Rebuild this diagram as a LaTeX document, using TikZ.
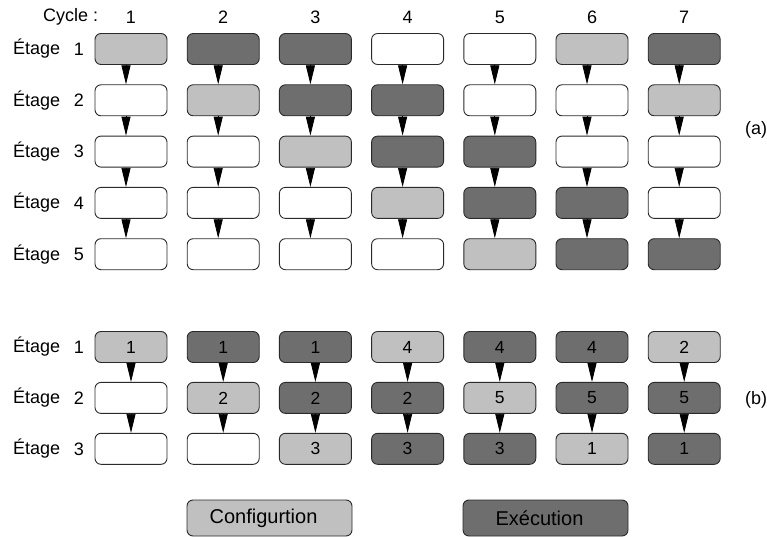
\documentclass[tikz,border=0pt]{standalone}
\usepackage{fontspec}
\setmainfont{Liberation Sans}
\usetikzlibrary{arrows.meta}
\definecolor{cfg}{HTML}{C0C0C0}
\definecolor{exe}{HTML}{6E6E6E}
\definecolor{edge}{HTML}{2A2A2A}
\tikzset{
  stage/.style={draw=edge, line width=0.9pt, rounded corners=6pt, minimum width=72pt, minimum height=31pt, inner sep=0pt, font=\fontsize{17.5}{20}\selectfont, text=black},
  W/.style={stage, fill=white},
  L/.style={stage, fill=cfg},
  D/.style={stage, fill=exe},
  lbl/.style={font=\fontsize{18}{20}\selectfont, text=black, inner sep=0pt},
  flow/.style={-{Triangle[width=9pt,length=19pt]}, line width=0.8pt, black},
  legendbox/.style={draw=edge, line width=0.9pt, rounded corners=6pt, minimum width=165pt, minimum height=36pt, inner sep=0pt, font=\fontsize{20}{24}\selectfont, text=black}
}
\begin{document}
\begin{tikzpicture}[x=1pt,y=-1pt]
\useasboundingbox (0,0) rectangle (767,537);
% header
\node[lbl, anchor=west] (cyc) at (43,17) {Cycle :};
\foreach \c in {1,...,7} {
  \node[lbl] (h\c) at ({131+92.2*(\c-1)},17) {\c};
}
% part (a)
\foreach \r/\pat in {1/{L,D,D,W,W,L,D},2/{W,L,D,D,W,W,L},3/{W,W,L,D,D,W,W},4/{W,W,W,L,D,D,W},5/{W,W,W,W,L,D,D}} {
  \node[lbl, anchor=west] (ea\r) at (13,{49+51.3*(\r-1)}) {Étage};
  \node[lbl] (na\r) at (79,{49+51.3*(\r-1)}) {\r};
  \foreach \s [count=\c] in \pat {
    \node[\s] (a\r-\c) at ({131+92.2*(\c-1)},{49+51.3*(\r-1)}) {};
  }
}
\foreach \r [evaluate=\r as \n using int(\r+1)] in {1,...,4} {
  \foreach \c in {1,...,7} {
    \draw[flow] ([xshift=-5pt]a\r-\c.south) -- ([xshift=-5pt]a\n-\c.north);
  }
}
\node[lbl] (la) at (756,130) {(a)};
% part (b)
\foreach \r/\pat in {1/{L/1,D/1,D/1,L/4,D/4,D/4,L/2},2/{W/,L/2,D/2,D/2,L/5,D/5,D/5},3/{W/,W/,L/3,D/3,D/3,L/1,D/1}} {
  \node[lbl, anchor=west] (eb\r) at (13,{347+50.9*(\r-1)}) {Étage};
  \node[lbl] (nb\r) at (79,{347+50.9*(\r-1)}) {\r};
  \foreach \s/\t [count=\c] in \pat {
    \node[\s] (b\r-\c) at ({131+92.2*(\c-1)},{347+50.9*(\r-1)}) {\t};
  }
}
\foreach \r [evaluate=\r as \n using int(\r+1)] in {1,2} {
  \foreach \c in {1,...,7} {
    \draw[flow] (b\r-\c.south) -- (b\n-\c.north);
  }
}
\node[lbl] (lb) at (756,400) {(b)};
% legend
\node[legendbox, fill=cfg] (cfgbox) at (269.5,518) {\hspace*{-12pt}Configurtion};
\node[legendbox, fill=exe] (exebox) at (545.5,518) {\hspace*{-12pt}Exécution};
\end{tikzpicture}
\end{document}
